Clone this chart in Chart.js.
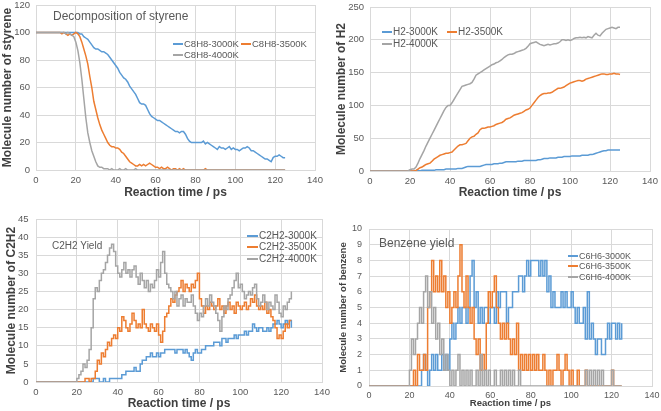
<!DOCTYPE html>
<html><head><meta charset="utf-8">
<script src="https://cdn.jsdelivr.net/npm/chart.js@4.4.1/dist/chart.umd.min.js"></script>
<style>
html,body{margin:0;padding:0;background:#fff;}
#wrap{position:relative;width:661px;height:411px;overflow:hidden;background:#fff;}
.pane{position:absolute;}
canvas{display:block;}
</style></head><body>
<div id="wrap">
<div class="pane" style="left:0;top:0;"><canvas id="c1" width="330" height="205"></canvas></div>
<div class="pane" style="left:330px;top:0;"><canvas id="c2" width="331" height="205"></canvas></div>
<div class="pane" style="left:0;top:205px;"><canvas id="c3" width="330" height="206"></canvas></div>
<div class="pane" style="left:330px;top:205px;"><canvas id="c4" width="331" height="206"></canvas></div>
</div>
<script>
// ---- sampling grid (ps) ----
const TIME_PS = Array.from({length: 126}, (_, i) => i);
const X_TICKS = [0, 20, 40, 60, 80, 100, 120, 140];
const X_TITLE = 'Reaction time / ps';

// ---- Panel 1: Decomposition of styrene ----
const STY_LABELS = ['C8H8-3000K', 'C8H8-3500K', 'C8H8-4000K'];
const styrene3000 = [100,100,100,100,100,100,100,100,100,100,100,100,100,100,100,100,100,100,100,100,100,
 100,99,99,97,96,95,93,91,89,
 88,88,87,86,86,85,84,82,80,78,
 76,74,71,69,67,66,64,61,59,57,
 55,52,49,48,48,47,44,41,39,38,
 37,36,36,35,34,33,32,31,30,29,
 28,28,27,28,28,26,23,21,20,20,
 20,20,20,20,21,19,20,19,18,17,
 16,15,17,16,16,15,16,17,15,16,
 15,15,14,15,16,16,17,16,14,14,
 13,12,11,10,9,8,8,7,6,9,
 10,10,11,10,9,9];
const styrene3500 = [100,100,100,100,100,100,100,100,100,100,100,100,100,
 99,100,99,98,99,98,99,
 100,99,97,93,88,83,77,68,60,50,
 44,38,33,29,26,23,20,18,17,17,
 16,16,15,13,12,10,8,6,5,4,
 3,3,4,3,4,3,4,5,4,3,
 2,2,1,2,1,1,2,1,0,1,
 1,0,1,0,1,0,0,0,0,0,
 0,0,0,0,0,1,0,0,0,0,
 0,0,0,0,0,0,0,0,0,0,
 0,0,0,0,0,0,0,0,0,0,
 0,0,0,0,0,0,0,0,0,0,
 0,0,0,0,0,0];
const styrene4000 = [100,100,100,100,100,100,100,100,100,100,100,100,100,100,100,
 99,100,99,98,97,
 93,87,78,66,52,38,27,20,14,10,
 6,3,2,2,1,1,1,0,1,0,
 0,0,1,0,0,1,0,0,0,0,
 1,0,0,0,0,0,0,0,0,0,
 0,0,0,0,0,0,0,0,0,0,
 0,0,0,0,0,0,0,0,0,0,
 0,0,0,0,0,0,0,0,0,0,
 0,0,0,0,0,0,0,0,0,0,
 0,0,0,0,0,0,0,0,0,0,
 0,0,0,0,0,0,0,0,0,0,
 0,0,0,0,0,0];

// ---- Panel 2: H2 ----
const H2_LABELS = ['H2-3000K', 'H2-3500K', 'H2-4000K'];
const h2_3000 = [0,0,0,0,0,0,0,0,0,0,0,0,0,0,0,0,0,0,0,0,0,0,0,
 0,1,0,1,1,1,1,
 1,1,1,2,2,2,2,2,3,3,
 3,3,3,3,4,4,4,5,6,7,
 7,7,7,7,7,7,8,9,10,10,
 10,10,11,11,11,12,12,13,14,14,
 14,14,14,14,15,15,15,16,16,16,
 16,16,16,16,17,17,18,19,19,19,
 20,20,20,20,21,21,21,22,22,22,
 22,23,23,23,23,23,24,24,24,24,
 25,25,26,27,28,29,30,31,31,32,
 32,32,32,32,32,32];
const h2_3500 = [0,0,0,0,0,0,0,0,0,0,0,0,0,0,0,0,0,0,0,0,0,0,0,
 1,3,5,6,8,10,11,
 12,15,18,20,22,24,25,26,27,27,
 28,29,32,35,38,40,40,41,42,46,
 50,52,53,56,58,63,65,65,66,67,
 67,68,69,71,72,73,74,76,79,80,
 81,83,85,86,87,88,89,91,93,94,
 96,100,104,108,112,115,117,118,118,119,
 119,120,122,124,126,126,127,128,130,132,
 134,135,136,137,138,138,137,138,140,141,
 142,143,144,145,146,147,148,148,147,147,
 148,148,149,148,148,147];
const h2_4000 = [0,0,0,0,0,0,0,0,0,0,0,0,0,0,0,0,0,0,0,0,
 2,3,3,6,12,19,25,31,38,44,
 50,56,62,68,74,80,86,92,97,100,
 100,104,109,114,119,124,129,130,131,132,
 133,135,140,146,148,150,152,154,156,158,
 160,162,163,165,166,168,170,173,175,177,
 178,178,179,181,182,183,184,185,187,190,
 194,195,196,197,195,193,192,191,192,193,
 192,193,194,194,195,197,200,200,199,200,
 199,200,202,203,203,204,203,204,203,205,
 204,203,207,210,207,206,210,213,216,217,
 218,219,218,217,219,219];

// ---- Panel 3: C2H2 ----
const C2H2_LABELS = ['C2H2-3000K', 'C2H2-3500K', 'C2H2-4000K'];
const c2h2_3000 = [0,0,0,0,0,0,0,0,0,0,0,0,0,0,0,0,0,0,0,0,0,0,0,0,0,0,0,0,
 1,1,
 1,0,0,1,0,0,1,1,1,1,
 1,1,2,2,3,3,3,3,4,3,
 3,5,6,6,7,7,8,7,7,8,
 7,8,8,9,9,9,9,9,8,9,
 9,9,8,9,8,7,6,8,9,8,
 8,9,9,10,10,10,10,11,11,11,
 10,12,12,11,12,12,12,13,12,13,
 13,13,14,13,14,14,16,15,14,15,
 15,14,14,15,14,15,16,16,17,16,
 15,16,17,16,17,15];
const c2h2_3500 = [0,0,0,0,0,0,0,0,0,0,0,0,0,0,0,0,0,0,0,0,0,0,0,0,
 1,1,0,1,1,3,
 6,5,8,7,9,11,10,12,13,12,
 15,14,18,17,15,14,16,19,17,15,
 16,15,20,16,15,14,16,15,14,16,
 13,11,14,18,19,21,23,22,24,25,
 26,28,25,27,26,25,27,26,28,30,
 23,21,19,21,20,22,21,20,21,23,
 20,21,19,21,22,20,21,19,22,21,
 20,21,22,20,21,23,22,24,21,20,
 21,20,22,19,20,18,17,15,12,13,
 12,14,16,15,17,17];
const c2h2_4000 = [0,0,0,0,0,0,0,0,0,0,0,0,0,0,0,0,0,0,0,0,
 1,2,3,5,4,6,9,15,23,26,
 25,28,30,31,33,35,37,38,36,32,
 30,29,31,33,30,31,29,31,32,29,
 27,30,28,26,28,25,27,26,28,31,
 29,33,36,30,27,26,25,23,25,21,
 23,24,21,23,22,22,24,21,19,17,
 19,18,21,23,21,24,22,21,19,17,
 14,18,21,20,23,24,26,28,30,26,
 27,25,23,24,25,24,26,27,23,21,
 22,24,22,20,22,21,20,24,22,19,
 18,21,20,22,23,25];

// ---- Panel 4: Benzene ----
const C6H6_LABELS = ['C6H6-3000K', 'C6H6-3500K', 'C6H6-4000K'];
const c6h6_3000 = [0,0,0,0,0,0,0,0,0,0,0,0,0,0,0,0,0,0,0,0,0,0,0,0,0,0,
 1,2,1,0,
 1,2,1,2,1,1,2,1,2,1,
 3,4,3,4,5,4,5,5,4,5,
 7,8,5,6,4,5,4,5,5,4,
 5,5,4,6,5,6,6,6,4,5,
 5,6,6,6,7,7,6,7,8,7,
 8,8,8,8,7,8,7,8,6,7,
 5,6,5,5,5,6,5,6,5,5,
 6,5,4,5,4,4,5,3,6,3,
 4,3,2,3,3,2,2,3,4,3,
 4,4,3,4,3,4];
const c6h6_3500 = [0,0,0,0,0,0,0,0,0,0,0,0,0,0,0,0,0,0,0,0,0,0,
 1,0,2,1,1,2,1,5,
 6,8,6,7,6,8,6,7,5,6,
 4,5,6,5,7,9,6,5,7,5,
 4,5,3,2,3,1,2,1,4,6,
 5,6,7,5,4,3,4,3,4,3,
 2,3,2,4,1,2,1,2,1,2,
 1,2,1,2,1,1,2,1,0,1,
 0,1,1,2,1,0,1,2,1,0,
 1,0,0,1,0,0,0,1,0,0,
 0,0,0,0,0,0,0,0,0,0,
 1,0,0,0,0,0];
const c6h6_4000 = [0,0,0,0,0,0,0,0,0,0,0,0,0,0,0,0,0,0,0,0,
 1,3,2,3,4,5,4,6,7,5,
 6,4,5,3,4,2,3,1,2,1,
 0,1,0,1,2,0,1,0,1,0,
 1,0,0,1,0,2,0,1,0,1,
 0,0,1,0,0,1,0,1,0,1,
 0,1,0,0,1,0,0,0,0,0,
 0,0,0,0,0,0,0,0,0,0,
 0,0,0,0,0,0,0,0,0,0,
 0,0,0,0,0,0,0,1,0,1,
 0,1,0,1,0,1,0,0,0,0,
 1,0,0,0,0,0];

[styrene3000,styrene3500,styrene4000,h2_3000,h2_3500,h2_4000,c2h2_3000,c2h2_3500,c2h2_4000,c6h6_3000,c6h6_3500,c6h6_4000]
 .forEach((a, k) => { if (a.length !== TIME_PS.length) throw new Error('series ' + k + ' has ' + a.length); });

const COLORS = ['#5B9BD5', '#ED7D31', '#A5A5A5'];
const FONT = '"Liberation Sans", Arial, sans-serif';
const GRID = '#d9d9d9';
const TICK_COLOR = '#595959';
const TITLE_COLOR = '#404040';

const panelDecor = {
  id: 'panelDecor',
  afterDatasetsDraw(chart, args, o) {
    const ctx = chart.ctx;
    ctx.save();
    ctx.textBaseline = 'middle';
    ctx.textAlign = 'left';
    ctx.font = o.legendSize + 'px ' + FONT;
    o.items.forEach((it, i) => {
      const ds = chart.data.datasets[i];
      ctx.strokeStyle = ds.borderColor;
      ctx.lineWidth = 2;
      ctx.beginPath();
      ctx.moveTo(it[0], it[1]);
      ctx.lineTo(it[0] + o.lineLen, it[1]);
      ctx.stroke();
      ctx.fillStyle = TICK_COLOR;
      ctx.fillText(ds.label, it[0] + o.lineLen + 1, it[1] + 0.5);
    });
    if (o.title) {
      ctx.font = o.titleSize + 'px ' + FONT;
      ctx.fillStyle = TICK_COLOR;
      ctx.fillText(o.title, o.titlePos[0], o.titlePos[1]);
    }
    ctx.restore();
  }
};

function makePanel(id, c) {
  const datasets = c.series.map((vals, i) => ({
    label: c.labels[i],
    data: vals.map((v, j) => ({x: TIME_PS[j], y: v})),
    borderColor: COLORS[i],
    backgroundColor: COLORS[i],
    borderWidth: c.lw,
    pointRadius: 0,
    tension: 0,
    stepped: c.stepped,
    order: 3 - i
  }));
  new Chart(document.getElementById(id), {
    type: 'line',
    data: {datasets},
    plugins: [panelDecor],
    options: {
      responsive: false,
      animation: false,
      events: [],
      layout: {padding: {left: 0, top: c.area.t, right: c.W - c.area.r, bottom: 0}},
      plugins: {
        legend: {display: false},
        tooltip: {enabled: false},
        panelDecor: c.decor
      },
      scales: {
        x: {
          type: 'linear', min: 0, max: 140,
          afterBuildTicks: s => { s.ticks = X_TICKS.map(v => ({value: v})); },
          ticks: {color: TICK_COLOR, font: {size: c.tickSize, family: FONT}, padding: c.xTickPad, maxRotation: 0, autoSkip: false},
          grid: {color: GRID, drawTicks: false},
          border: {color: GRID},
          title: {display: true, text: X_TITLE, color: TITLE_COLOR,
                  font: {size: c.axisTitleSize, weight: 'bold', family: FONT},
                  padding: {top: 0, bottom: c.xTitlePadB}},
          afterFit: s => { s.height = c.H - c.area.b; s.paddingLeft = 0; s.paddingRight = 0; }
        },
        y: {
          min: 0, max: c.yMax,
          ticks: {stepSize: c.yStep, color: TICK_COLOR, font: {size: c.tickSize, family: FONT}, padding: c.yTickPad},
          grid: {color: GRID, drawTicks: false},
          border: {color: GRID},
          title: {display: true, text: c.yTitle, color: TITLE_COLOR,
                  font: {size: c.axisTitleSize, weight: 'bold', family: FONT},
                  padding: {top: c.yTitlePadT, bottom: 0}},
          afterFit: s => { s.width = c.area.l; s.paddingTop = 0; s.paddingBottom = 0; }
        }
      }
    }
  });
}

makePanel('c1', {
  W: 330, H: 205, area: {l: 36, r: 315, t: 5, b: 170},
  series: [styrene3000, styrene3500, styrene4000], labels: STY_LABELS,
  yMax: 120, yStep: 20, yTitle: 'Molecule number of styrene',
  lw: 1.5, stepped: false, tickSize: 9.5, axisTitleSize: 12,
  xTickPad: 5, yTickPad: 6, xTitlePadB: 5.5, yTitlePadT: 0.5,
  decor: {items: [[173, 44], [241, 44], [173, 55]], lineLen: 10, legendSize: 9.5,
          title: 'Decomposition of styrene', titleSize: 12, titlePos: [53, 17]}
});
makePanel('c2', {
  W: 331, H: 205, area: {l: 40, r: 320, t: 7, b: 171},
  series: [h2_3000, h2_3500, h2_4000], labels: H2_LABELS,
  yMax: 250, yStep: 50, yTitle: 'Molecule number of H2',
  lw: 1.5, stepped: false, tickSize: 9.5, axisTitleSize: 12,
  xTickPad: 5, yTickPad: 6, xTitlePadB: 5.5, yTitlePadT: 4.5,
  decor: {items: [[52, 32], [117, 32], [52, 44]], lineLen: 10, legendSize: 10,
          title: '', titleSize: 10, titlePos: [0, 0]}
});
makePanel('c3', {
  W: 330, H: 206, area: {l: 36, r: 322, t: 14, b: 177},
  series: [c2h2_3000, c2h2_3500, c2h2_4000], labels: C2H2_LABELS,
  yMax: 45, yStep: 5, yTitle: 'Molecule number of C2H2',
  lw: 1.5, stepped: true, tickSize: 9.5, axisTitleSize: 12,
  xTickPad: 5, yTickPad: 7.5, xTitlePadB: 0, yTitlePadT: 4.5,
  decor: {items: [[247, 31], [247, 42], [247, 54]], lineLen: 11, legendSize: 10,
          title: 'C2H2 Yield', titleSize: 10, titlePos: [52, 41]}
});
makePanel('c4', {
  W: 331, H: 206, area: {l: 39, r: 322, t: 24, b: 181},
  series: [c6h6_3000, c6h6_3500, c6h6_4000], labels: C6H6_LABELS,
  yMax: 10, yStep: 1, yTitle: 'Molecule number of benzene',
  lw: 1.5, stepped: true, tickSize: 9, axisTitleSize: 9.5,
  xTickPad: 4, yTickPad: 7, xTitlePadB: 2.3, yTitlePadT: 7.8,
  decor: {items: [[238, 51], [238, 61], [238, 72]], lineLen: 10, legendSize: 9,
          title: 'Benzene yield', titleSize: 12, titlePos: [49, 39]}
});
</script>
</body></html>
